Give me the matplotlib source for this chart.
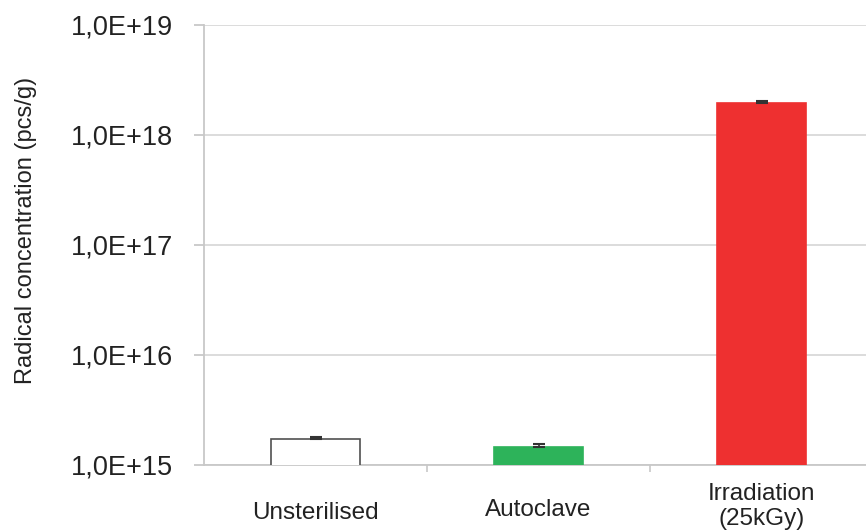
import matplotlib
matplotlib.use('Agg')
import matplotlib.pyplot as plt
from matplotlib.ticker import FixedLocator, FixedFormatter

# radical concentration per treatment (pcs/g), with upper error
categories = ['Unsterilised', 'Autoclave', 'Irradiation\n(25kGy)']
values = [1.72e15, 1.46e15, 1.95e18]
err_up = [0.07e15, 0.08e15, 0.10e18]
colors = ['white', '#2DB35A', '#EE3030']
edges = ['#505050', '#2DB35A', '#EE3030']

yticks = [1e15, 1e16, 1e17, 1e18, 1e19]
ytick_labels = ['1,0E+15', '1,0E+16', '1,0E+17', '1,0E+18', '1,0E+19']

plt.rcParams['font.family'] = ['Liberation Sans', 'DejaVu Sans']

fig = plt.figure(figsize=(8.66, 5.31), dpi=100)
ax = fig.add_axes([204/866, 1 - 465/531, 662/866, 440/531])

x = range(len(categories))
ax.bar(x, values, width=0.4, color=colors, edgecolor=edges, linewidth=1.2,
       zorder=3)
ax.errorbar(x, values, yerr=[[0]*3, err_up], fmt='none', ecolor='#333333',
            elinewidth=1.2, capsize=4, capthick=1.5, zorder=4)

ax.set_yscale('log')
ax.set_ylim(1e15, 1e19)
ax.set_xlim(-0.5, -0.5 + 662/223)

ax.yaxis.set_major_locator(FixedLocator(yticks))
ax.yaxis.set_major_formatter(FixedFormatter(ytick_labels))
ax.yaxis.set_minor_locator(FixedLocator([]))
ax.grid(axis='y', color='#d9d9d9', linewidth=1.3, zorder=0)
ax.tick_params(axis='y', length=7, width=1.3, color='#c8c8c8', pad=15,
               labelsize=19.5, labelcolor='#222222')

# category boundaries carry the x tick marks
ax.set_xticks([0.5, 1.5], minor=False)
ax.set_xticklabels([])
ax.tick_params(axis='x', length=5, width=1.2, color='#c8c8c8')
label_y = [-0.084, -0.078, -0.042]
for i, name in enumerate(categories):
    ax.text(i, label_y[i], name, transform=ax.get_xaxis_transform(),
            ha='center', va='top', fontsize=17.5, color='#222222',
            linespacing=1.15)

for side in ['top', 'right']:
    ax.spines[side].set_visible(False)
ax.spines['left'].set_color('#c8c8c8')
ax.spines['left'].set_linewidth(1.3)
ax.spines['bottom'].set_color('#c8c8c8')
ax.spines['bottom'].set_linewidth(1.3)

ax.set_ylabel('Radical concentration (pcs/g)', fontsize=17, color='#222222')
ax.yaxis.set_label_coords(-0.252, 0.532)

fig.savefig('out.png', dpi=100)
